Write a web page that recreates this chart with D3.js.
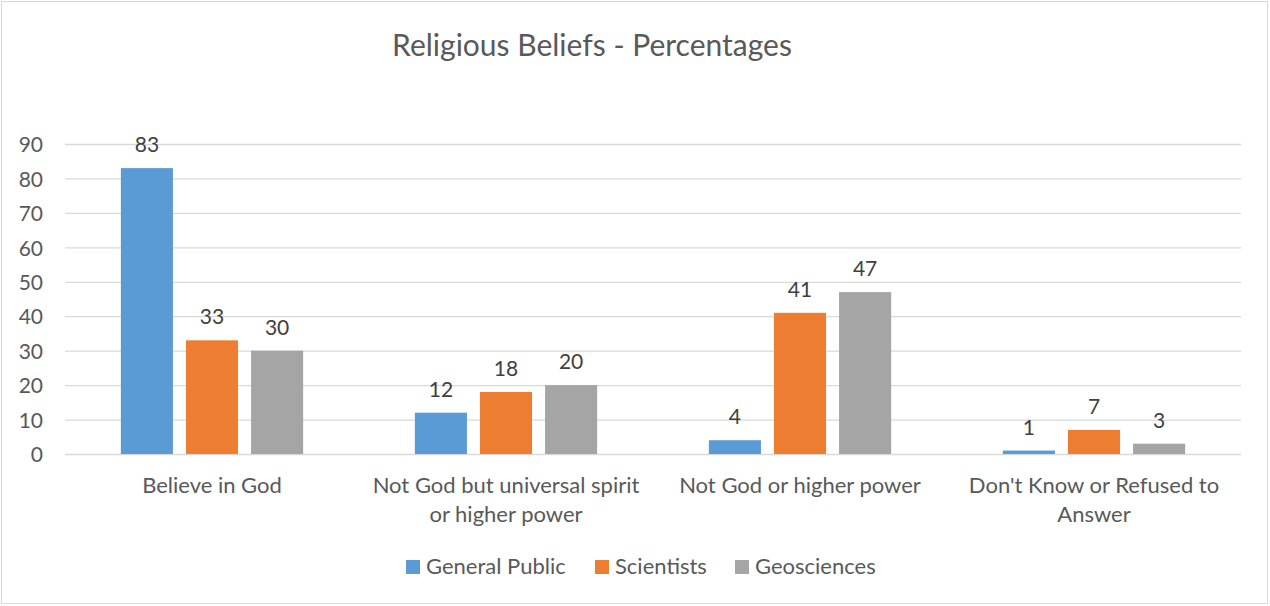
<!DOCTYPE html>
<meta charset="utf-8">
<title>Religious Beliefs - Percentages</title>
<style>
body {
  margin: 0;
  background: #fff;
}
text {
  font-family: Lato, "Open Sans", sans-serif;
}
</style>
<svg></svg>
<script src="https://d3js.org/d3.v7.min.js"></script>
<script>
// data
var categories = [
  ["Believe in God"],
  ["Not God but universal spirit", "or higher power"],
  ["Not God or higher power"],
  ["Don't Know or Refused to", "Answer"]
];
var seriesNames = ["General Public", "Scientists", "Geosciences"];
var generalPublic = [83, 12, 4, 1];
var scientists = [33, 18, 41, 7];
var geosciences = [30, 20, 47, 3];
var yTicks = [0, 10, 20, 30, 40, 50, 60, 70, 80, 90];
var colors = ["#5b9bd5", "#ed7d31", "#a5a5a5"];

var series = [generalPublic, scientists, geosciences];

var width = 1270,
    height = 606;
var margin = {left: 65, right: 29, top: 144, bottom: 152};
var fs = "22px";

var svg = d3.select("svg")
    .attr("width", width)
    .attr("height", height);

// chart border
svg.append("rect")
    .attr("x", 1.5).attr("y", 1.5)
    .attr("width", width - 4).attr("height", height - 4)
    .attr("fill", "#fff")
    .attr("stroke", "#d9d9d9");

var x0 = d3.scaleBand()
    .domain(d3.range(categories.length))
    .range([margin.left, width - margin.right])
    .paddingInner(0.38)
    .paddingOuter(0.19);

var x1 = d3.scaleBand()
    .domain(d3.range(series.length))
    .range([0, x0.bandwidth()])
    .paddingInner(0.2);

var y = d3.scaleLinear()
    .domain([0, 90])
    .range([height - margin.bottom, margin.top]);

// gridlines
svg.append("g")
  .selectAll("line")
  .data(yTicks)
  .join("line")
    .attr("x1", margin.left)
    .attr("x2", width - margin.right)
    .attr("y1", function(d) { return y(d) + 0.5; })
    .attr("y2", function(d) { return y(d) + 0.5; })
    .attr("stroke", "#d9d9d9")
    .attr("stroke-width", 1.3);

// y axis labels
var yAxis = svg.append("g")
    .attr("transform", "translate(" + (margin.left - 22) + ",1)")
    .call(d3.axisLeft(y).tickValues(yTicks).tickSize(0).tickPadding(0));
yAxis.select(".domain").remove();
yAxis.selectAll("text")
    .attr("fill", "#595959")
    .style("font-size", "21px")
    .style("font-family", "Lato, 'Open Sans', sans-serif");

// bars
var groups = svg.append("g")
  .selectAll("g")
  .data(series)
  .join("g")
    .attr("fill", function(d, i) { return colors[i]; });

groups.each(function(vals, si) {
  var g = d3.select(this);
  g.selectAll("rect")
    .data(vals)
    .join("rect")
      .attr("x", function(d, ci) { return x0(ci) + x1(si); })
      .attr("y", function(d) { return y(d); })
      .attr("width", x1.bandwidth())
      .attr("height", function(d) { return y(0) - y(d); });
  g.selectAll("text")
    .data(vals)
    .join("text")
      .attr("x", function(d, ci) { return x0(ci) + x1(si) + x1.bandwidth() / 2; })
      .attr("y", function(d) { return y(d) - 16; })
      .attr("text-anchor", "middle")
      .attr("fill", "#404040")
      .style("font-size", "21px")
      .text(function(d) { return d; });
});

// category labels
var cat = svg.append("g")
  .selectAll("text")
  .data(categories)
  .join("text")
    .attr("x", function(d, i) { return x0(i) + x0.bandwidth() / 2; })
    .attr("y", y(0) + 39)
    .attr("text-anchor", "middle")
    .attr("fill", "#595959")
    .style("font-size", fs);
cat.selectAll("tspan")
  .data(function(d) { return d; })
  .join("tspan")
    .attr("x", function() { return d3.select(this.parentNode).attr("x"); })
    .attr("dy", function(d, i) { return i ? 29 : 0; })
    .text(function(d) { return d; });

// title
svg.append("text")
    .attr("x", 592)
    .attr("y", 56)
    .attr("text-anchor", "middle")
    .attr("fill", "#595959")
    .style("font-size", "30px")
    .text("Religious Beliefs - Percentages");

// legend
var legendX = [406, 595, 735];
var legend = svg.append("g")
  .selectAll("g")
  .data(seriesNames)
  .join("g")
    .attr("transform", function(d, i) { return "translate(" + legendX[i] + ",560)"; });
legend.append("rect")
    .attr("width", 14)
    .attr("height", 14)
    .attr("fill", function(d, i) { return colors[i]; });
legend.append("text")
    .attr("x", 20)
    .attr("y", 14)
    .attr("fill", "#595959")
    .style("font-size", fs)
    .text(function(d) { return d; });
</script>
